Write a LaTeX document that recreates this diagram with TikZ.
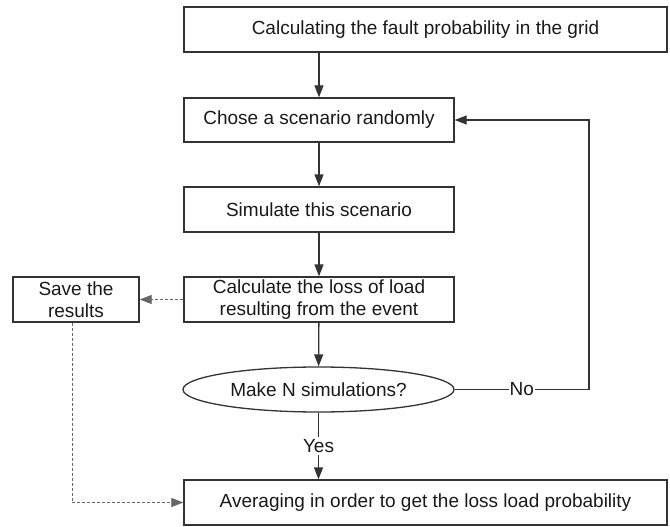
\documentclass[tikz,border=0pt]{standalone}
\usepackage{fontspec}
\setmainfont{Liberation Sans}
\usetikzlibrary{shapes.geometric,arrows.meta}
\begin{document}
\begin{tikzpicture}[x=1pt,y=-1pt,
  box/.style={draw=black!80, line width=1.3pt, minimum height=45pt, inner sep=0pt, align=center, font=\fontsize{19}{22}\selectfont, text=black!90},
  arr/.style={-{Triangle[length=12pt,width=9pt]}, line width=1.3pt, draw=black!80},
  darr/.style={-{Triangle[length=12pt,width=9pt]}, line width=0.7pt, draw=black!60, dash pattern=on 3pt off 2pt},
  lbl/.style={fill=white, font=\fontsize{19}{22}\selectfont, text=black!90},
]
\useasboundingbox (0,0) rectangle (670,527);
\node[box, minimum width=483pt] (top) at (425.5,29.5) {Calculating the fault probability in the grid};
\node[box, minimum width=270pt, minimum height=44pt] (b2) at (319,120) {Chose a scenario randomly};
\node[box, minimum width=270pt] (b3) at (319,209.5) {Simulate this scenario};
\node[box, minimum width=270pt] (b4) at (319,299.5) {Calculate the loss of load\\resulting from the event};
\node[box, minimum width=126pt] (save) at (76,299.5) {Save the\\results};
\node[box, ellipse, minimum width=271pt, minimum height=45pt] (dec) at (318.5,389.5) {Make N simulations?};
\node[box, minimum width=483pt] (bot) at (425.5,502.5) {Averaging in order to get the loss load probability};
\coordinate (fb) at (589,389.5);
\coordinate (sx) at (72,0);
\draw[arr] (b2.north |- top.south) -- (b2.north);
\draw[arr] (b2) -- (b3);
\draw[arr] (b3) -- (b4);
\draw[arr] (b4) -- (dec);
\draw[arr] (dec.south) -- node[lbl, inner sep=2pt] {Yes} (dec.south |- bot.north);
\draw[arr] (dec.east) -- node[lbl, inner sep=1pt] {No} (fb) |- (b2.east);
\draw[darr] (b4.west) -- (save.east);
\draw[darr] (save.south -| sx) |- (bot.west);
\end{tikzpicture}
\end{document}
